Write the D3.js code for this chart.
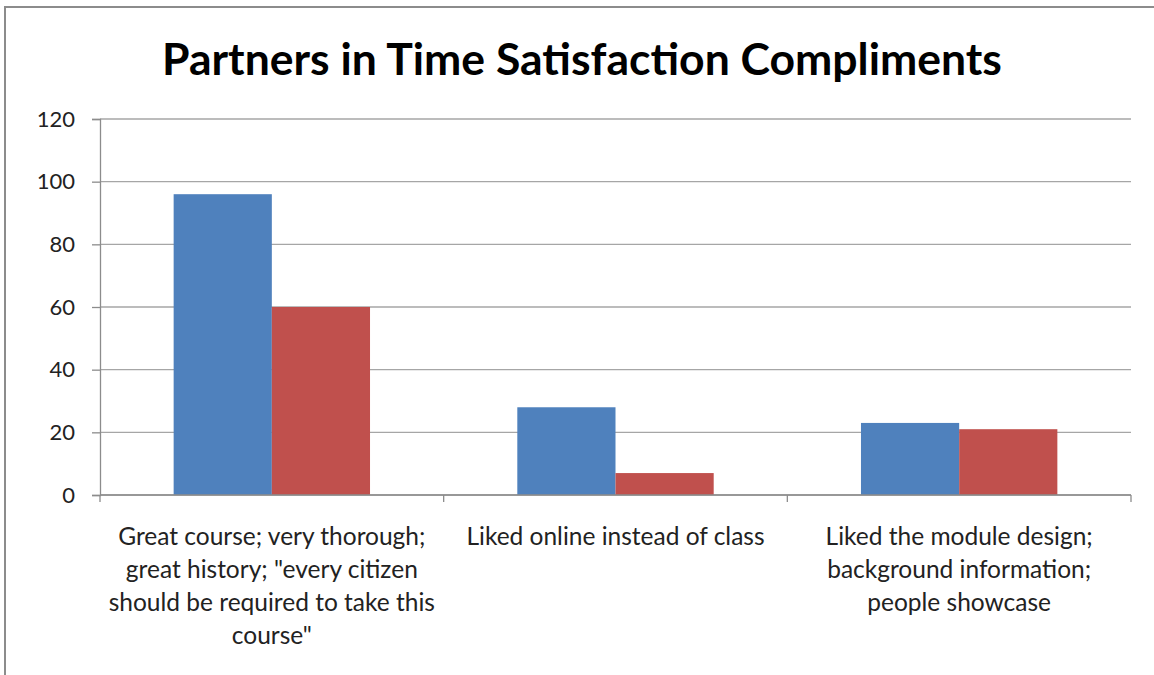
<!DOCTYPE html>
<html>
<head>
<meta charset="utf-8">
<script src="https://cdn.jsdelivr.net/npm/d3@7"></script>
<style>
  body { margin: 0; background: #fff; }
  svg { display: block; font-family: Lato, "Open Sans", sans-serif; }
</style>
</head>
<body>
<svg id="chart" width="1154" height="675"></svg>
<script>
const categories = [
    ["Great course; very thorough;", "great history; \"every citizen", "should be required to take this", "course\""],
    ["Liked online instead of class"],
    ["Liked the module design;", "background information;", "people showcase"]
];
const seriesA = [96, 28, 23];
const seriesB = [60, 7, 21];
const yTicks = [0, 20, 40, 60, 80, 100, 120];
const titleText = "Partners in Time Satisfaction Compliments";

const width = 1154;
const height = 675;
const margin = {top: 119, right: 23, bottom: 180, left: 100};

const svg = d3.select("#chart");

// outer chart frame (only top and left show in the picture)
svg.append("path")
    .attr("d", `M5,${height} L5,7 L${width},7`)
    .attr("fill", "none")
    .attr("stroke", "#8c8c8c")
    .attr("stroke-width", 2);

const x = d3.scaleBand()
    .domain(d3.range(categories.length))
    .range([margin.left, width - margin.right])
    .paddingInner(0)
    .paddingOuter(0);

const inner = d3.scaleBand()
    .domain([0, 1])
    .range([0, x.bandwidth()])
    .paddingInner(0)
    .paddingOuter(0.75);

const y = d3.scaleLinear()
    .domain([0, 120])
    .range([height - margin.bottom, margin.top]);

// gridlines
svg.append("g")
    .selectAll("line")
    .data(yTicks)
    .enter()
    .append("line")
    .attr("x1", margin.left)
    .attr("x2", width - margin.right)
    .attr("y1", d => y(d))
    .attr("y2", d => y(d))
    .attr("stroke", "#a6a6a6")
    .attr("stroke-width", 1.3);

// bars
const groups = svg.append("g")
    .selectAll("g")
    .data(categories)
    .enter()
    .append("g")
    .attr("transform", (d, i) => `translate(${x(i)},0)`);

groups.append("rect")
    .attr("x", inner(0))
    .attr("width", inner.bandwidth())
    .attr("y", (d, i) => y(seriesA[i]))
    .attr("height", (d, i) => y(0) - y(seriesA[i]))
    .attr("fill", "#4f81bd");

groups.append("rect")
    .attr("x", inner(1))
    .attr("width", inner.bandwidth())
    .attr("y", (d, i) => y(seriesB[i]))
    .attr("height", (d, i) => y(0) - y(seriesB[i]))
    .attr("fill", "#c0504d");

// y axis
const yAxis = svg.append("g")
    .attr("transform", `translate(${margin.left},0)`)
    .call(d3.axisLeft(y).tickValues(yTicks).tickSize(8).tickPadding(17));
yAxis.selectAll("path,line").attr("stroke", "#8c8c8c").attr("stroke-width", 1.3);
yAxis.selectAll("text")
    .attr("font-size", 22)
    .attr("font-family", "Lato, sans-serif")
    .attr("fill", "#222");

// x axis
const xAxisY = y(0);
svg.append("line")
    .attr("x1", margin.left).attr("x2", width - margin.right)
    .attr("y1", xAxisY).attr("y2", xAxisY)
    .attr("stroke", "#8c8c8c").attr("stroke-width", 1.3);
svg.append("g")
    .selectAll("line")
    .data(d3.range(categories.length + 1))
    .enter()
    .append("line")
    .attr("x1", d => margin.left + d * x.step())
    .attr("x2", d => margin.left + d * x.step())
    .attr("y1", xAxisY)
    .attr("y2", xAxisY + 7)
    .attr("stroke", "#8c8c8c")
    .attr("stroke-width", 1.3);

// category labels
const labels = svg.append("g")
    .selectAll("text")
    .data(categories)
    .enter()
    .append("text")
    .attr("text-anchor", "middle")
    .attr("font-size", 24.5)
    .attr("fill", "#222")
    .attr("x", (d, i) => x(i) + x.bandwidth() / 2)
    .attr("y", 545);

labels.selectAll("tspan")
    .data(d => d)
    .enter()
    .append("tspan")
    .attr("x", function() { return this.parentNode.getAttribute("x"); })
    .attr("dy", (d, i) => i === 0 ? 0 : 33)
    .text(d => d);

// title
svg.append("text")
    .attr("x", 582)
    .attr("y", 75)
    .attr("text-anchor", "middle")
    .attr("font-size", 44.5)
    .attr("font-weight", "bold")
    .attr("fill", "#000")
    .text(titleText);
</script>
</body>
</html>
